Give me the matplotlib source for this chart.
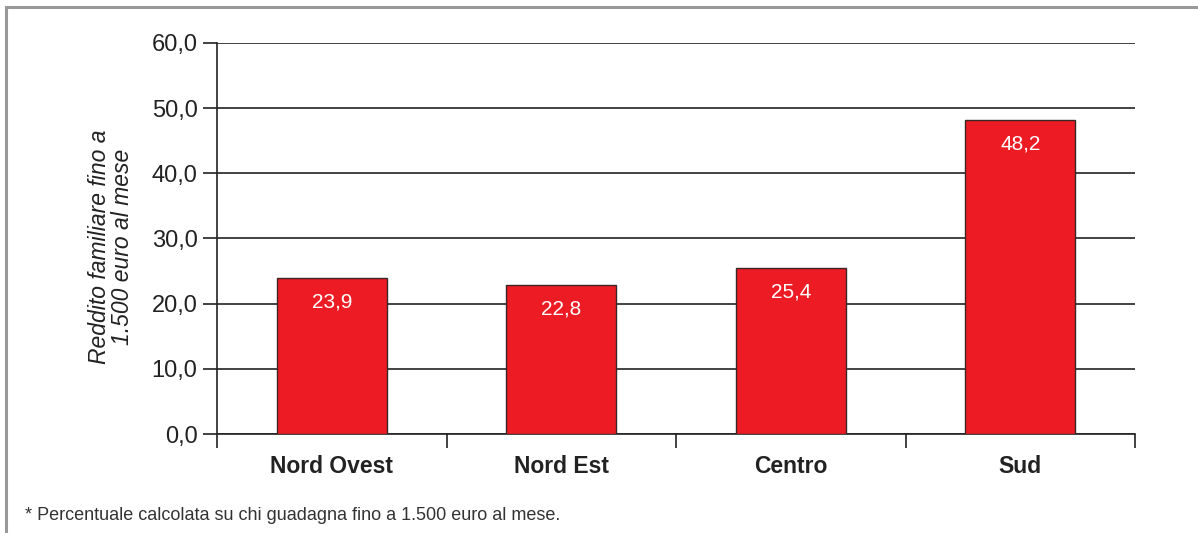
import matplotlib
matplotlib.use("Agg")
import matplotlib.pyplot as plt
from matplotlib.lines import Line2D

plt.rcParams['font.family'] = ['Liberation Sans', 'DejaVu Sans']

categories = ["Nord Ovest", "Nord Est", "Centro", "Sud"]
values = [23.9, 22.8, 25.4, 48.2]
value_labels = ["23,9", "22,8", "25,4", "48,2"]
yticks = [0, 10, 20, 30, 40, 50, 60]
ytick_labels = ["0,0", "10,0", "20,0", "30,0", "40,0", "50,0", "60,0"]
ylabel = "Reddito familiare fino a\n1.500 euro al mese"
footnote = "* Percentuale calcolata su chi guadagna fino a 1.500 euro al mese."

fig = plt.figure(figsize=(11.98, 5.33), dpi=100)
ax = fig.add_axes([217/1198, 1-434/533, (1135-217)/1198, (434-43)/533])

x = list(range(len(categories)))
bars = ax.bar(x, values, width=0.48, color="#ED1C24", edgecolor="#3a2626",
              linewidth=1.0, zorder=3)
for xi, v, lab in zip(x, values, value_labels):
    ax.text(xi, v - 2.2, lab, ha="center", va="top", color="white",
            fontsize=15, zorder=4)

ax.set_xlim(-0.5, len(categories) - 0.5)
ax.set_ylim(0, 60)
ax.set_yticks(yticks)
ax.set_yticklabels(ytick_labels, fontsize=17)
ax.set_xticks([i - 0.5 for i in range(len(categories) + 1)], minor=False)
ax.set_xticklabels([""] * (len(categories) + 1))
ax.set_xticks(x, minor=True)
ax.set_xticklabels(categories, minor=True, fontsize=16.5, fontweight="bold")
ax.tick_params(axis="x", which="minor", length=0, pad=15)
ax.tick_params(axis="x", which="major", length=10, width=1.2, color="#222222")
ax.tick_params(axis="y", length=10, width=1.2, color="#222222", pad=4,
               labelcolor="#222222")
ax.tick_params(axis="x", labelcolor="#222222", which="both")

ax.yaxis.grid(True, color="#222222", linewidth=1.2, zorder=0)
ax.set_axisbelow(True)
for s in ["top", "right"]:
    ax.spines[s].set_visible(False)
ax.spines["left"].set_bounds(0, 60)
ax.spines["left"].set_linewidth(1.2)
ax.spines["left"].set_color("#222222")
ax.spines["bottom"].set_linewidth(1.2)
ax.spines["bottom"].set_color("#222222")

fig.text(111/1198, 1-247/533, ylabel, rotation=90, ha="center", va="center",
         fontsize=16.5, style="italic", color="#222222", linespacing=1.0)

fig.text(25/1198, 1-515/533, footnote, ha="left", va="center",
         fontsize=13, color="#333333")

# frame lines
fig.add_artist(Line2D([6/1198, 1], [1-7/533, 1-7/533], color="#999999",
                      linewidth=2.2, transform=fig.transFigure))
fig.add_artist(Line2D([6/1198, 6/1198], [0, 1-7/533], color="#999999",
                      linewidth=2.2, transform=fig.transFigure))

fig.savefig("out.png", dpi=100)
